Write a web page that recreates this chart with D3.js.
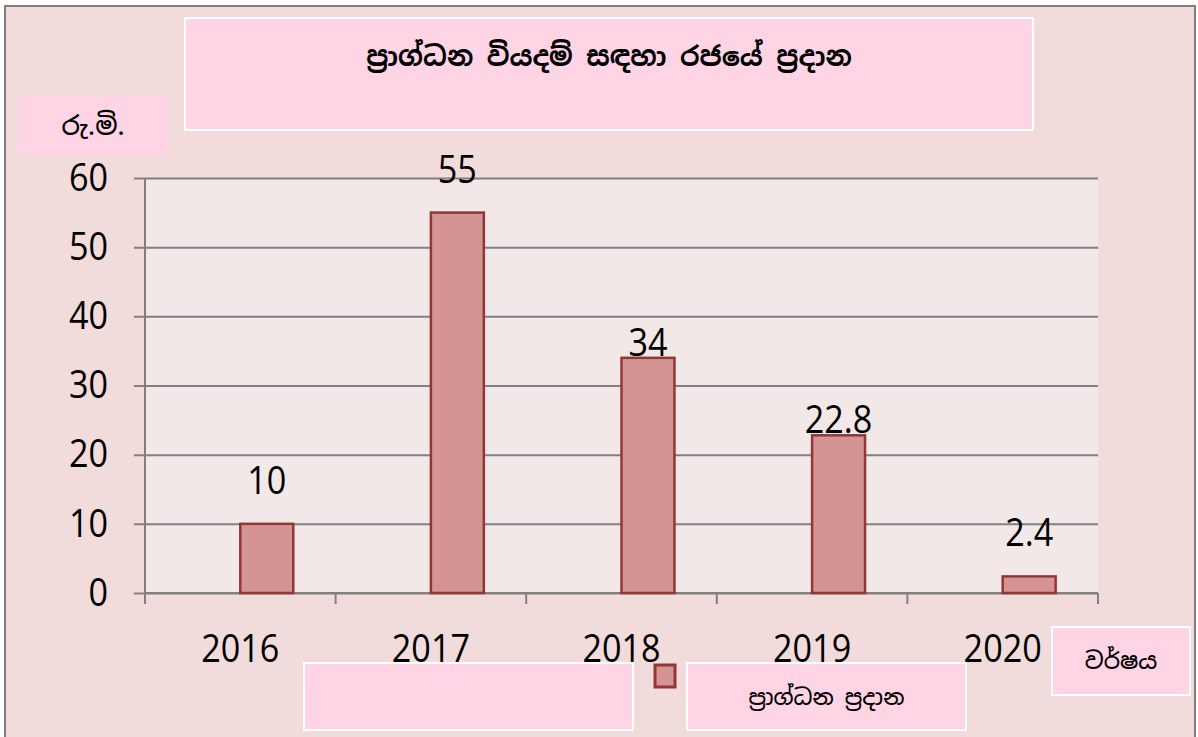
<!DOCTYPE html>
<html>
<head>
<meta charset="utf-8">
<script src="https://cdn.jsdelivr.net/npm/d3@7"></script>
<style>
  body { margin: 0; background: #fff; }
  svg { display: block; }
</style>
</head>
<body>
<svg id="chart" width="1198" height="737"></svg>
<script>
// data
const years = ['2016', '2017', '2018', '2019', '2020'];
const grantValues = [10, 55, 34, 22.8, 2.4];
const yTicks = [0, 10, 20, 30, 40, 50, 60];
// how far each value label sits above its bar (as in the original chart)
const labelLift = [30, 30, 2, 2, 30];

const titleText = 'ප්‍රාග්ධන වියදම් සඳහා රජයේ ප්‍රදාන';
const yAxisTitle = 'රු.මි.';
const xAxisTitle = 'වර්ෂය';
const seriesName = 'ප්‍රාග්ධන ප්‍රදාන';

const conf = {
  plotLeft: 145,
  plotRight: 1098,
  plotTop: 178,
  plotBottom: 593,
  bg: '#f2dcdb',
  plotBg: '#f2e8e8',
  boxFill: '#ffd5e5',
  grid: '#808080',
  barFill: '#d49494',
  barStroke: '#943634',
  numSize: 38,
  narrow: 0.9,
  numFont: '"Open Sans", "Noto Sans", sans-serif',
  sinFont: '"Noto Sans Sinhala", "Iskoola Pota", "Noto Sans", sans-serif'
};

const svg = d3.select('#chart');

svg.append('rect')
  .attr('x', 5).attr('y', 6)
  .attr('width', 1190).attr('height', 740)
  .attr('fill', conf.bg)
  .attr('stroke', '#808080')
  .attr('stroke-width', 2);

const x = d3.scaleBand()
  .domain(years)
  .range([conf.plotLeft, conf.plotRight]);

// two series per year in the original; the first one is empty
const inner = d3.scaleBand()
  .domain(['empty', 'grant'])
  .range([0, x.bandwidth()])
  .paddingOuter(0.8)
  .paddingInner(0);

const y = d3.scaleLinear()
  .domain([0, 60])
  .range([conf.plotBottom, conf.plotTop]);

const numText = sel =>
  sel.attr('fill', '#000')
    .style('font-family', conf.numFont)
    .style('font-size', conf.numSize + 'px');

// plot area
svg.append('rect')
  .attr('x', conf.plotLeft).attr('y', conf.plotTop)
  .attr('width', conf.plotRight - conf.plotLeft)
  .attr('height', conf.plotBottom - conf.plotTop)
  .attr('fill', conf.plotBg);

// gridlines + y axis
const yAxis = d3.axisLeft(y)
  .tickValues(yTicks)
  .tickSize(-(conf.plotRight - conf.plotLeft))
  .tickFormat(d3.format('d'));

const yg = svg.append('g')
  .attr('transform', 'translate(' + conf.plotLeft + ',0)')
  .call(yAxis);
yg.select('.domain').remove();
yg.selectAll('.tick line')
  .attr('x1', -11)
  .attr('stroke', conf.grid)
  .attr('stroke-width', 2);
yg.selectAll('.tick text')
  .attr('x', 0)
  .attr('transform', 'translate(-37,0) scale(' + conf.narrow + ',1)')
  .call(numText);

svg.append('line')
  .attr('x1', conf.plotLeft).attr('x2', conf.plotLeft)
  .attr('y1', conf.plotTop).attr('y2', conf.plotBottom + 11)
  .attr('stroke', conf.grid)
  .attr('stroke-width', 2);

// x axis: labels centred, ticks on category boundaries
const xg = svg.append('g')
  .attr('transform', 'translate(0,' + conf.plotBottom + ')')
  .call(d3.axisBottom(x).tickSize(0));
xg.select('.domain').remove();
xg.selectAll('.tick text')
  .attr('y', 0)
  .attr('dy', 0)
  .attr('transform', 'translate(0,69) scale(' + conf.narrow + ',1)')
  .call(numText);

const boundaries = years.map(d => x(d)).concat([conf.plotRight]);
svg.append('g').selectAll('line')
  .data(boundaries)
  .join('line')
  .attr('x1', d => d).attr('x2', d => d)
  .attr('y1', conf.plotBottom).attr('y2', conf.plotBottom + 11)
  .attr('stroke', conf.grid)
  .attr('stroke-width', 2);

svg.append('line')
  .attr('x1', conf.plotLeft).attr('x2', conf.plotRight)
  .attr('y1', conf.plotBottom).attr('y2', conf.plotBottom)
  .attr('stroke', conf.grid)
  .attr('stroke-width', 2);

// bars
const bars = years.map((yr, i) => ({ year: yr, value: grantValues[i], lift: labelLift[i] }));

svg.append('g').selectAll('rect')
  .data(bars)
  .join('rect')
  .attr('x', d => x(d.year) + inner('grant'))
  .attr('y', d => y(d.value))
  .attr('width', inner.bandwidth())
  .attr('height', d => y(0) - y(d.value))
  .attr('fill', conf.barFill)
  .attr('stroke', conf.barStroke)
  .attr('stroke-width', 2.5);

svg.append('g').selectAll('text')
  .data(bars)
  .join('text')
  .attr('transform', d =>
    'translate(' + (x(d.year) + inner('grant') + inner.bandwidth() / 2) + ',' +
    (y(d.value) - d.lift) + ') scale(' + conf.narrow + ',1)')
  .attr('text-anchor', 'middle')
  .call(numText)
  .text(d => d.value);

// text boxes
const drawBox = function(bx, by, bw, bh, label, size, border) {
  svg.append('rect')
    .attr('x', bx).attr('y', by)
    .attr('width', bw).attr('height', bh)
    .attr('fill', conf.boxFill)
    .attr('stroke', border ? '#fff' : 'none')
    .attr('stroke-width', 2);
  if (label) {
    svg.append('text')
      .attr('x', bx + bw / 2)
      .attr('y', by + bh / 2)
      .attr('text-anchor', 'middle')
      .attr('dominant-baseline', 'central')
      .style('font-family', conf.sinFont)
      .style('font-size', size + 'px')
      .style('font-weight', 500)
      .text(label);
  }
};

drawBox(185, 18, 848, 112, null, 0, true);
svg.append('text')
  .attr('x', 609).attr('y', 56)
  .attr('text-anchor', 'middle')
  .attr('dominant-baseline', 'central')
  .style('font-family', conf.sinFont)
  .style('font-size', '27px')
  .style('font-weight', 'bold')
  .text(titleText);

drawBox(18, 96, 150, 59, yAxisTitle, 26, false);
drawBox(1052, 627, 138, 68, xAxisTitle, 23, true);
drawBox(304, 663, 329, 67, null, 0, true);
drawBox(687, 663, 279, 67, seriesName, 22, true);

// legend key
svg.append('rect')
  .attr('x', 655).attr('y', 665)
  .attr('width', 20).attr('height', 22)
  .attr('fill', conf.barFill)
  .attr('stroke', conf.barStroke)
  .attr('stroke-width', 3);
</script>
</body>
</html>
